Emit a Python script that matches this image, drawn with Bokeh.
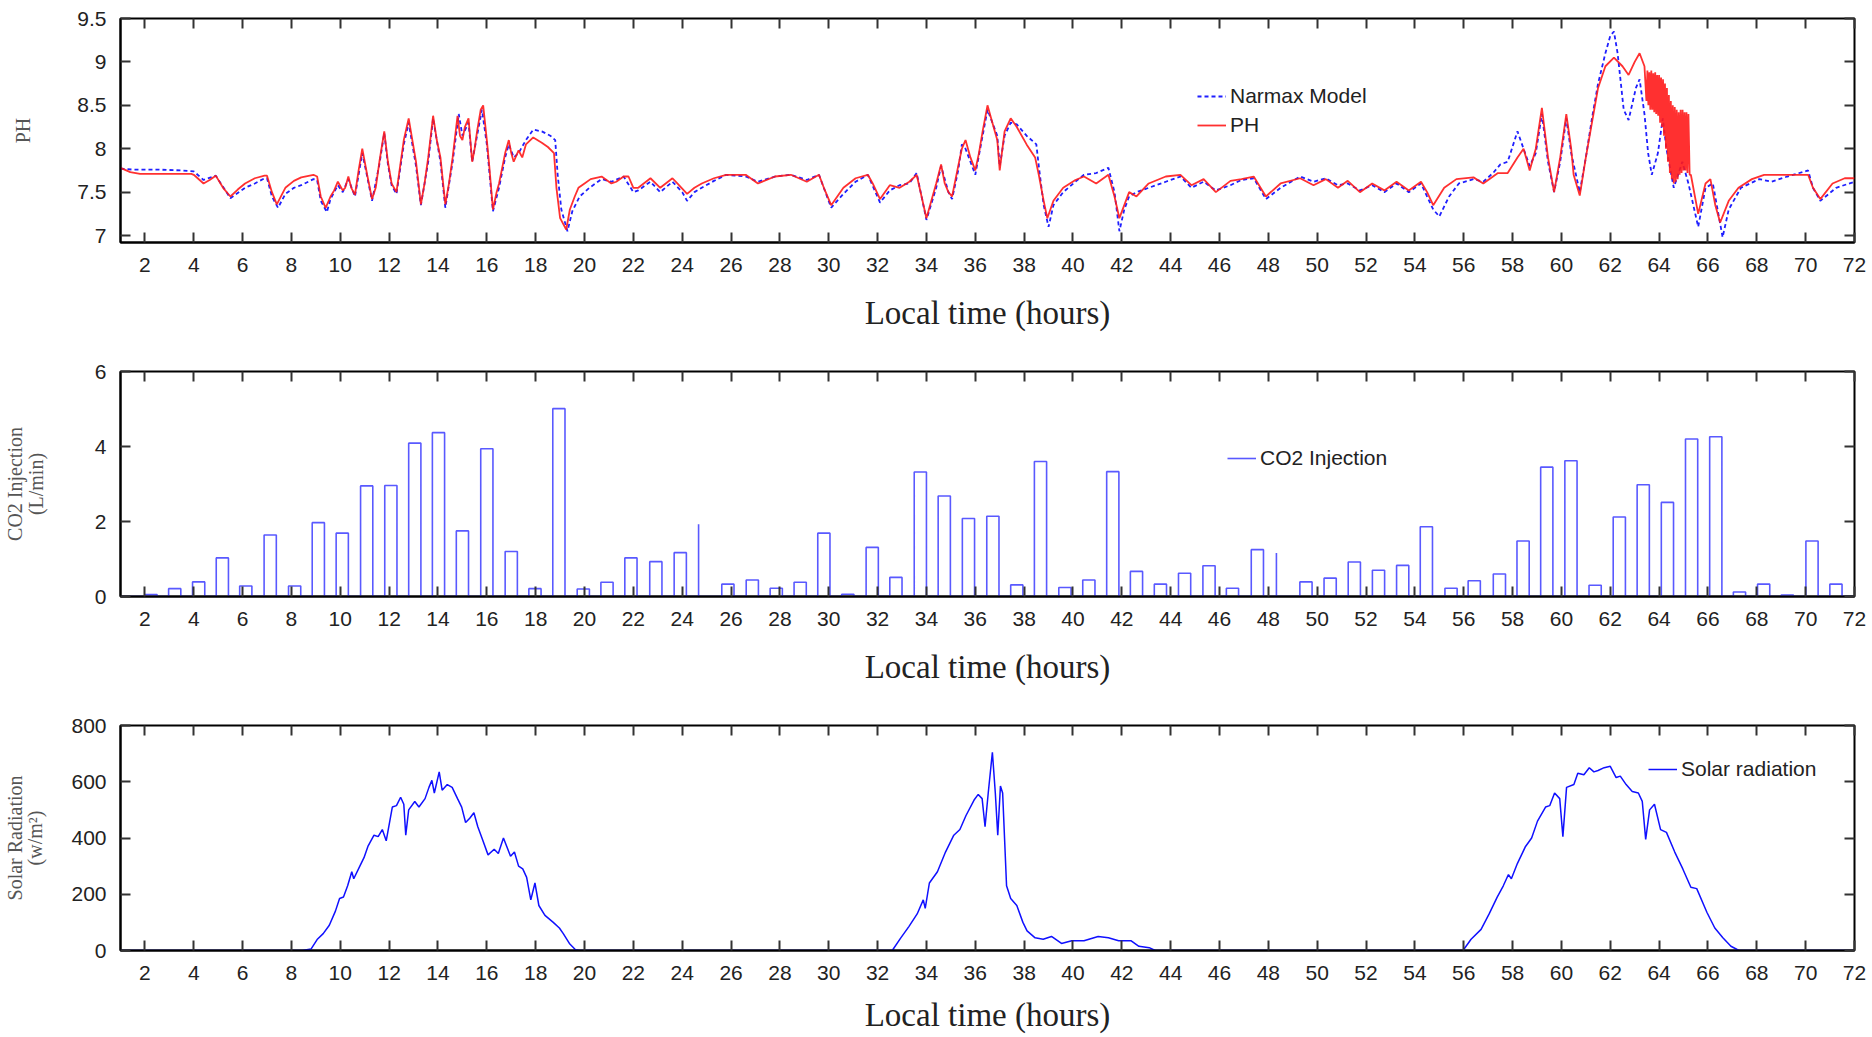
from bokeh.plotting import figure
from bokeh.layouts import column
from bokeh.models import LinearAxis, FixedTicker, Range1d, Legend, LegendItem
from bokeh.embed import file_html
from bokeh.resources import INLINE

# ---------------- data ----------------
hour_ticks = list(range(2, 73, 2))

ph_t = [1.0, 1.4, 1.8, 2.5, 3.2, 3.9, 4.0, 4.4, 4.65, 4.9, 5.2, 5.5, 5.8, 6.1, 6.5, 6.9, 7.0, 7.2, 7.4, 7.75,
        8.1, 8.4, 8.9, 9.05, 9.2, 9.4, 9.6, 9.75, 9.9, 10.1, 10.2, 10.33, 10.45, 10.6, 10.75, 10.9, 11.1, 11.3,
        11.45, 11.6, 11.8, 11.95, 12.1, 12.3, 12.45, 12.6, 12.8, 12.95, 13.1, 13.3, 13.45, 13.6, 13.8, 13.95,
        14.1, 14.3, 14.45, 14.6, 14.8, 14.9, 15.0, 15.1, 15.25, 15.4, 15.5, 15.6, 15.75, 15.85, 16.0, 16.1,
        16.25, 16.4, 16.5, 16.75, 16.9, 17.0, 17.1, 17.3, 17.45, 17.6, 17.9, 18.25, 18.5, 18.75, 18.85, 19.0,
        19.25, 19.4, 19.6, 19.75, 20.0, 20.25, 20.7, 21.1, 21.3, 21.6, 21.8, 22.0, 22.2, 22.7, 23.1, 23.6,
        23.8, 24.2, 24.5, 24.8, 25.3, 25.8, 26.6, 27.1, 27.8, 28.45, 29.1, 29.6, 29.8, 30.1, 30.6, 31.1, 31.6,
        31.8, 32.1, 32.5, 32.9, 33.3, 33.6, 33.8, 34.0, 34.2, 34.4, 34.6, 34.75, 34.9, 35.05, 35.3, 35.45,
        35.6, 35.8, 36.0, 36.15, 36.3, 36.5, 36.7, 36.9, 37.0, 37.2, 37.45, 37.7, 38.1, 38.45, 38.6, 38.8,
        38.95, 39.2, 39.6, 40.1, 40.45, 40.95, 41.45, 41.7, 41.9, 42.1, 42.3, 42.6, 43.1, 43.8, 44.4, 44.85,
        45.35, 45.85, 46.45, 46.9, 47.4, 47.9, 48.5, 49.3, 49.85, 50.35, 50.85, 51.25, 51.75, 52.25, 52.75,
        53.25, 53.75, 54.25, 54.5, 54.75, 55.2, 55.7, 56.4, 56.8, 57.4, 57.8, 58.2, 58.45, 58.7, 58.95, 59.2,
        59.45, 59.7, 59.95, 60.2, 60.4, 60.5, 60.75, 61.0, 61.25, 61.5, 61.8, 62.15, 62.5, 62.75, 63.0, 63.2,
        63.4,
        63.48, 63.52, 63.56, 63.6, 63.64, 63.68, 63.72, 63.76, 63.8, 63.84, 63.88, 63.92, 63.96, 64.0, 64.04,
        64.08, 64.12, 64.16, 64.2, 64.24, 64.28, 64.32, 64.36, 64.4, 64.44, 64.48, 64.52, 64.56, 64.6, 64.64,
        64.68, 64.72, 64.76, 64.8, 64.84, 64.88, 64.92, 64.96, 65.0, 65.04, 65.08, 65.12, 65.16, 65.2, 65.25,
        65.3, 65.6, 65.9, 66.1, 66.3, 66.5, 66.85,
        67.25, 67.8, 68.3, 69.1, 70.1, 70.3, 70.6, 71.1, 71.6, 72.0]
ph_v = [7.78, 7.73, 7.71, 7.71, 7.71, 7.71, 7.70, 7.60, 7.64, 7.69, 7.55, 7.45, 7.53, 7.60, 7.66, 7.69, 7.69, 7.50, 7.36, 7.55,
        7.63, 7.67, 7.70, 7.68, 7.45, 7.32, 7.45, 7.52, 7.62, 7.52, 7.55, 7.68, 7.55, 7.47, 7.75, 8.00, 7.70, 7.42,
        7.55, 7.85, 8.20, 7.85, 7.60, 7.50, 7.80, 8.10, 8.35, 8.10, 7.85, 7.36, 7.60, 7.90, 8.38, 8.10,
        7.90, 7.36, 7.60, 7.90, 8.38, 8.15, 8.10, 8.25, 8.35, 7.85, 8.00, 8.20, 8.45, 8.50, 8.10, 7.80,
        7.30, 7.50, 7.60, 7.95, 8.10, 7.95, 7.85, 7.98, 7.90, 8.05, 8.13, 8.07, 8.02, 7.95, 7.55, 7.20,
        7.07, 7.30, 7.45, 7.55, 7.60, 7.65, 7.68, 7.60, 7.62, 7.68, 7.68, 7.55, 7.55, 7.66, 7.55, 7.66,
        7.60, 7.48, 7.55, 7.60, 7.66, 7.70, 7.70, 7.60, 7.68, 7.70, 7.62, 7.70, 7.55, 7.35, 7.55, 7.66, 7.70,
        7.60, 7.42, 7.58, 7.55, 7.62, 7.70, 7.45, 7.20, 7.40, 7.60, 7.82, 7.60, 7.50, 7.45, 7.80, 8.00,
        8.10, 7.90, 7.75, 7.95, 8.20, 8.50, 8.30, 8.10, 7.75, 8.20, 8.35, 8.25, 8.05, 7.90, 7.70, 7.40,
        7.20, 7.40, 7.55, 7.64, 7.68, 7.60, 7.70, 7.45, 7.20, 7.35, 7.50, 7.45, 7.60, 7.68, 7.70, 7.58,
        7.65, 7.50, 7.63, 7.65, 7.68, 7.45, 7.60, 7.66, 7.58, 7.65, 7.55, 7.63, 7.50, 7.60, 7.52,
        7.62, 7.52, 7.62, 7.50, 7.35, 7.55, 7.65, 7.67, 7.60, 7.72, 7.72, 7.90, 8.00, 7.75, 8.00, 8.47,
        7.90, 7.50, 7.90, 8.40, 8.00, 7.70, 7.46, 7.90, 8.30, 8.70, 8.95, 9.05, 8.95, 8.85, 9.00, 9.10,
        8.95,
        8.55, 8.90, 8.50, 8.88, 8.45, 8.90, 8.45, 8.87, 8.42, 8.88, 8.40, 8.85, 8.38, 8.85, 8.30,
        8.82, 8.25, 8.80, 8.15, 8.75, 8.00, 8.70, 7.85, 8.62, 7.72, 8.55, 7.65, 8.50, 7.60, 8.48,
        7.62, 8.45, 7.65, 8.42, 7.70, 8.45, 7.72, 8.45, 7.75, 8.42, 7.75, 8.42, 7.72, 8.40, 7.70,
        7.70, 7.25, 7.60, 7.65, 7.35, 7.15, 7.40,
        7.55, 7.65, 7.70, 7.70, 7.70, 7.55, 7.42, 7.60, 7.66, 7.66]

nx_t = [1.0, 1.5, 2.5, 3.5, 4.0, 4.4, 4.9, 5.5, 6.1, 6.5, 6.9, 7.0, 7.2, 7.45, 7.75, 8.1, 8.4, 8.9, 9.05, 9.2,
        9.45, 9.6, 9.75, 9.9, 10.1, 10.33, 10.6, 10.75, 10.9, 11.1, 11.3, 11.6, 11.8, 11.95, 12.1, 12.3, 12.6,
        12.8, 13.1, 13.3, 13.6, 13.8, 14.1, 14.3, 14.6, 14.85, 15.0, 15.25, 15.4, 15.6, 15.8, 16.0, 16.25,
        16.5, 16.75, 16.9, 17.1, 17.3, 17.6, 17.9, 18.25, 18.6, 18.8, 18.9, 19.05, 19.2, 19.3, 19.5, 19.8,
        20.2, 20.7, 21.1, 21.6, 22.0, 22.2, 22.7, 23.1, 23.6, 24.0, 24.2, 24.5, 24.8, 25.3, 25.8, 26.6, 27.1,
        27.8, 28.45, 29.1, 29.6, 30.1, 30.6, 31.1, 31.6, 32.1, 32.5, 32.9, 33.3, 33.6, 34.0, 34.4, 34.6, 34.9,
        35.05, 35.3, 35.45, 35.6, 35.8, 36.0, 36.3, 36.5, 36.7, 36.9, 37.0, 37.2, 37.45, 37.7, 38.1, 38.5,
        38.6, 38.8, 39.0, 39.2, 39.6, 40.1, 40.45, 40.95, 41.45, 41.7, 41.9, 42.1, 42.3, 42.6, 43.1, 43.8,
        44.4, 44.85, 45.35, 45.85, 46.45, 46.9, 47.4, 47.9, 48.5, 49.3, 49.85, 50.35, 50.85, 51.25, 51.75,
        52.25, 52.75, 53.25, 53.75, 54.25, 54.75, 55.0, 55.4, 55.8, 56.4, 56.8, 57.2, 57.5, 57.8, 58.2, 58.45,
        58.7, 58.95, 59.2, 59.45, 59.7, 59.95, 60.2, 60.4, 60.75, 61.0, 61.25, 61.5, 61.8, 62.0, 62.15, 62.3,
        62.55, 62.75, 63.05, 63.2, 63.4, 63.55, 63.7, 63.95, 64.15, 64.3, 64.6, 64.95, 65.2, 65.6, 65.9,
        66.2, 66.6, 66.85, 67.35, 68.1, 68.6, 69.25, 70.1, 70.3, 70.6, 71.25, 72.0]
nx_v = [7.77, 7.76, 7.76, 7.75, 7.74, 7.64, 7.69, 7.43, 7.55, 7.60, 7.66, 7.66, 7.45, 7.32, 7.48, 7.55, 7.58, 7.65, 7.64, 7.40,
        7.27, 7.42, 7.50, 7.58, 7.50, 7.65, 7.45, 7.70, 7.95, 7.68, 7.40, 7.82, 8.18, 7.82, 7.58, 7.48, 8.05,
        8.30, 7.80, 7.35, 7.85, 8.35, 7.85, 7.32, 7.85, 8.40, 8.15, 8.30, 7.85, 8.15, 8.45, 8.05, 7.28,
        7.55, 7.90, 8.05, 7.90, 7.95, 8.10, 8.22, 8.20, 8.15, 8.10, 7.70, 7.30, 7.15, 7.05, 7.28, 7.45,
        7.55, 7.65, 7.62, 7.68, 7.50, 7.52, 7.62, 7.50, 7.62, 7.50, 7.40, 7.50, 7.55, 7.63, 7.70, 7.68, 7.62,
        7.68, 7.70, 7.64, 7.70, 7.32, 7.48, 7.62, 7.70, 7.38, 7.52, 7.58, 7.60, 7.72, 7.18, 7.55, 7.80, 7.50,
        7.42, 7.75, 8.05, 8.00, 7.85, 7.70, 8.15, 8.45, 8.30, 8.15, 7.80, 8.15, 8.30, 8.28, 8.15, 8.05,
        7.80, 7.35, 7.10, 7.35, 7.50, 7.62, 7.70, 7.72, 7.78, 7.50, 7.05, 7.30, 7.45, 7.50, 7.55, 7.62,
        7.68, 7.55, 7.62, 7.52, 7.58, 7.64, 7.66, 7.42, 7.55, 7.68, 7.62, 7.66, 7.58, 7.60, 7.52,
        7.58, 7.50, 7.60, 7.50, 7.60, 7.30, 7.22, 7.45, 7.60, 7.65, 7.62, 7.72, 7.82, 7.85, 8.20, 8.00,
        7.80, 7.95, 8.40, 7.85, 7.50, 7.85, 8.35, 7.95, 7.50, 7.90, 8.35, 8.75, 9.10, 9.30, 9.35, 9.10,
        8.45, 8.33, 8.70, 8.80, 8.40, 7.95, 7.70, 7.95, 8.35, 8.00, 7.55, 7.85, 7.60, 7.10, 7.55,
        7.60, 6.98, 7.30, 7.55, 7.65, 7.62, 7.68, 7.75, 7.55, 7.40, 7.55, 7.62]

co2_start = [2.0, 2.97, 3.95, 4.92, 5.88, 6.88, 7.88, 8.85, 9.83, 10.83, 11.82, 12.8, 13.77, 14.75, 15.75,
             16.75, 17.72, 18.7, 19.7, 20.67, 21.65, 22.67, 23.67, 24.67, 25.62, 26.62, 27.6, 28.58, 29.55,
             30.53, 31.53, 32.5, 33.5, 34.48, 35.47, 36.47, 37.45, 38.42, 39.42, 40.4, 41.38, 42.35, 43.33,
             44.32, 45.32, 46.28, 47.3, 48.33, 49.29, 50.28, 51.27, 52.26, 53.25, 54.22, 55.23, 56.18, 57.21,
             58.18, 59.15, 60.14, 61.13, 62.12, 63.1, 64.09, 65.08, 66.07, 67.04, 68.03, 69.0, 70.01, 70.99]
co2_dur = [0.5] * 23 + [0.0] + [0.5] * 23 + [0.0] + [0.5] * 23
co2_val = [0.05, 0.21, 0.39, 1.03, 0.28, 1.64, 0.28, 1.97, 1.69, 2.95, 2.96, 4.09, 4.37, 1.75, 3.94,
           1.2, 0.21, 5.01, 0.2, 0.38, 1.03, 0.93, 1.17, 1.93, 0.33, 0.44, 0.22, 0.38, 1.69,
           0.06, 1.31, 0.51, 3.32, 2.68, 2.08, 2.14, 0.31, 3.6, 0.24, 0.44, 3.33, 0.67, 0.33,
           0.62, 0.82, 0.22, 1.25, 1.16, 0.39, 0.49, 0.92, 0.7, 0.83, 1.86, 0.22, 0.42, 0.6,
           1.48, 3.45, 3.62, 0.3, 2.12, 2.98, 2.51, 4.2, 4.26, 0.12, 0.33, 0.04, 1.48, 0.33]

sol_t = [1.0, 8.45, 8.8, 9.05, 9.3, 9.55, 9.8, 9.97, 10.13, 10.3, 10.47, 10.55, 10.8, 10.97, 11.13, 11.38,
         11.55, 11.72, 11.88, 12.13, 12.3, 12.47, 12.6, 12.68, 12.8, 13.05, 13.22, 13.47, 13.63, 13.75, 13.85,
         14.05, 14.17, 14.38, 14.58, 14.8, 14.97, 15.13, 15.3, 15.47, 15.63, 15.8, 16.05, 16.3, 16.47, 16.68,
         16.97, 17.13, 17.3, 17.47, 17.63, 17.8, 17.97, 18.13, 18.38, 18.72, 18.97, 19.13, 19.38, 19.63, 19.8,
         32.6, 32.95, 33.28, 33.62, 33.87, 33.95, 34.12, 34.45, 34.78, 35.12, 35.37, 35.62, 35.95, 36.12,
         36.28, 36.4, 36.53, 36.7, 36.82, 36.92, 37.03, 37.12, 37.28, 37.45, 37.7, 37.95, 38.12, 38.45, 38.78,
         39.12, 39.53, 39.95, 40.45, 41.03, 41.45, 41.87, 42.37, 42.7, 43.12, 43.37,
         55.97, 56.3, 56.71, 57.04, 57.37, 57.62, 57.83, 57.95, 58.2, 58.53, 58.78, 59.02, 59.35, 59.52,
         59.72, 59.93, 60.06, 60.21, 60.51, 60.67, 60.92, 61.14, 61.33, 61.5, 61.75, 62.0, 62.24, 62.41,
         62.65, 62.9, 63.15, 63.31, 63.45, 63.61, 63.81, 64.06, 64.3, 64.64, 64.97, 65.3, 65.54, 65.96,
         66.28, 66.61, 66.94, 67.27, 72.0]
sol_v = [0, 0, 5, 39, 60, 90, 140, 185, 190, 230, 280, 255, 300, 330, 370, 410,
         405, 430, 390, 510, 515, 545, 520, 410, 500, 530, 510, 540, 580, 605, 560,
         635, 570, 590, 580, 540, 510, 455, 470, 490, 440, 400, 340, 360, 345, 400,
         335, 350, 300, 290, 260, 180, 240, 160, 125, 100, 80, 60, 25, 3, 0,
         0, 45, 85, 130, 180, 150, 240, 280, 350, 410, 430, 480, 535, 555,
         540, 440, 560, 705, 560, 410, 585, 560, 230, 185, 160, 100, 70, 45, 40,
         50, 25, 35, 35, 50, 45, 35, 35, 15, 10, 0,
         0, 40, 75, 130, 190, 230, 270, 255, 310, 370, 400, 460, 510, 515,
         560, 540, 405, 580, 590, 630, 625, 650, 635, 640, 650, 655, 615, 620,
         590, 565, 560, 530, 395, 500, 520, 430, 420, 350, 290, 225, 220, 135,
         80, 45, 15, 0, 0]

assert len(ph_t) == len(ph_v), (len(ph_t), len(ph_v))
assert len(nx_t) == len(nx_v), (len(nx_t), len(nx_v))
assert len(sol_t) == len(sol_v), (len(sol_t), len(sol_v))
assert len(co2_start) == len(co2_val) == len(co2_dur)

X_RANGE = (1, 72)

# ---------------- styling helpers ----------------
W = 1872
TICK_FONT = "Liberation Sans"
SERIF = "Liberation Serif"


def make_fig(h, top, bottom, yr, yticks, ylabel, ylabel_standoff, xlabel_standoff):
    p = figure(width=W, height=h, output_backend="svg", toolbar_location=None,
               x_range=Range1d(*X_RANGE), y_range=Range1d(*yr),
               min_border_left=120, min_border_right=18,
               min_border_top=top, min_border_bottom=bottom,
               background_fill_color="white", border_fill_color="white")
    p.xgrid.visible = False
    p.ygrid.visible = False
    p.outline_line_color = "black"
    p.outline_line_width = 2
    p.outline_line_alpha = 1.0

    xa = p.xaxis[0]
    ya = p.yaxis[0]
    xa.ticker = FixedTicker(ticks=hour_ticks)
    ya.ticker = FixedTicker(ticks=yticks)
    for ax in (xa, ya):
        ax.axis_line_color = "black"
        ax.axis_line_width = 2
        ax.major_tick_in = 10
        ax.major_tick_out = 0
        ax.major_tick_line_color = "#333333"
        ax.major_tick_line_width = 2
        ax.minor_tick_line_color = None
        ax.major_label_text_font = TICK_FONT
        ax.major_label_text_font_size = "21px"
        ax.major_label_text_color = "#222222"
    xa.major_label_standoff = 15
    ya.major_label_standoff = 14
    xa.axis_label = "Local time (hours)"
    xa.axis_label_text_font = SERIF
    xa.axis_label_text_font_size = "33px"
    xa.axis_label_text_font_style = "normal"
    xa.axis_label_text_color = "#222222"
    xa.axis_label_standoff = xlabel_standoff
    ya.axis_label = ylabel
    ya.axis_label_text_font = SERIF
    ya.axis_label_text_font_size = "20px"
    ya.axis_label_text_font_style = "normal"
    ya.axis_label_text_color = "#555555"
    ya.axis_label_text_line_height = 0.95
    ya.axis_label_standoff = ylabel_standoff

    # mirrored inward ticks on the top and right edges
    top_ax = LinearAxis(ticker=FixedTicker(ticks=hour_ticks), axis_line_color=None,
                        major_tick_in=10, major_tick_out=0, major_tick_line_color="#333333",
                        major_tick_line_width=2, minor_tick_line_color=None,
                        major_label_standoff=0, major_label_text_font_size="0px",
                        major_label_overrides={t: "" for t in hour_ticks})
    right_ax = LinearAxis(ticker=FixedTicker(ticks=yticks), axis_line_color=None,
                          major_tick_in=10, major_tick_out=0, major_tick_line_color="#333333",
                          major_tick_line_width=2, minor_tick_line_color=None,
                          major_label_standoff=0, major_label_text_font_size="0px",
                          major_label_overrides={t: "" for t in yticks})
    p.add_layout(top_ax, "above")
    p.add_layout(right_ax, "right")
    return p


def style_legend(p, items, loc):
    lg = Legend(items=items, location=loc, border_line_color=None,
                background_fill_alpha=0, padding=0, margin=0, spacing=5,
                glyph_width=29, glyph_height=22, label_standoff=4,
                label_text_font=TICK_FONT, label_text_font_size="21px",
                label_text_color="#222222")
    p.add_layout(lg, "center")


# ---------------- panel 1: pH ----------------
p1 = make_fig(342, 18, 100, (6.92, 9.5), [7, 7.5, 8, 8.5, 9, 9.5], "PH", 40, 20)
r_nx = p1.line(nx_t, nx_v, line_color="#1f1fff", line_width=1.8, line_dash="4 3")
r_ph = p1.line(ph_t, ph_v, line_color="#ff1a1a", line_width=1.8, line_alpha=0.9)
style_legend(p1, [LegendItem(label="Narmax Model", renderers=[r_nx]),
                  LegendItem(label="PH", renderers=[r_ph])], (1077, 105))

# ---------------- panel 2: CO2 injection ----------------
cx, cy = [X_RANGE[0]], [0.0]
for s, d, v in zip(co2_start, co2_dur, co2_val):
    cx += [s, s, s + d, s + d]
    cy += [0.0, v, v, 0.0]
cx.append(X_RANGE[1])
cy.append(0.0)

p2 = make_fig(353, 29, 99, (0, 6), [0, 2, 4, 6], "CO2 Injection\n(L/min)", 45, 20)
r_co2 = p2.line(cx, cy, line_color="#3c3cff", line_width=1.6, line_alpha=0.85)
style_legend(p2, [LegendItem(label="CO2 Injection", renderers=[r_co2])], (1107, 126))

# ---------------- panel 3: solar radiation ----------------
p3 = make_fig(342, 30, 87, (0, 800), [0, 200, 400, 600, 800],
              "Solar Radiation\n(w/m\u00b2)", 22, 14)
r_sol = p3.line(sol_t, sol_v, line_color="#1010ff", line_width=1.5)
style_legend(p3, [LegendItem(label="Solar radiation", renderers=[r_sol])], (1528, 169))

layout = column(p1, p2, p3, spacing=0)
open("out.html", "w").write(file_html(layout, INLINE))
